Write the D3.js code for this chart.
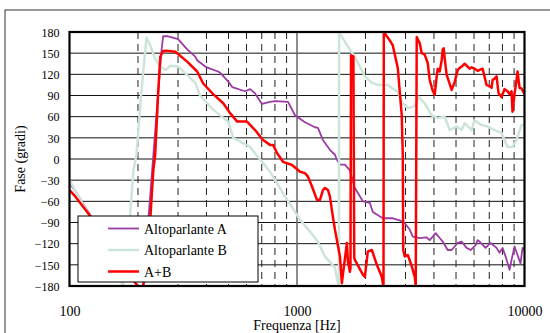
<!DOCTYPE html>
<html>
<head>
<meta charset="utf-8">
<script src="https://cdn.jsdelivr.net/npm/d3@7"></script>
<style>
  body { margin: 0; background: #fff; }
  svg { display: block; font-family: "Liberation Serif", "Times New Roman", serif; }
</style>
</head>
<body>
<svg id="chart" width="550" height="333"></svg>
<script>
// ---- data (frequency Hz, phase deg) ----
const xTicks = [100, 1000, 10000];
const xMinor = [200, 300, 400, 500, 600, 700, 800, 900, 2000, 3000, 4000, 5000, 6000, 7000, 8000, 9000];
const yTicks = [-180, -150, -120, -90, -60, -30, 0, 30, 60, 90, 120, 150, 180];
const seriesNames = ['Altoparlante A', 'Altoparlante B', 'A+B'];

const phaseA = [
  [100, -35], [106, -45], [121, -75], [160, -140], [199, -180], [205, -190], [211, -180],
  [253, 150], [258, 174], [269, 174], [292, 171], [300, 170], [330, 155], [357, 145],
  [364, 140], [395, 131], [415, 128], [450, 124], [460, 122], [498, 110], [519, 102],
  [591, 96], [622, 99], [654, 93], [702, 78], [761, 81], [801, 82], [913, 81], [980, 62],
  [1084, 52], [1199, 45], [1236, 44], [1300, 27], [1395, 13], [1468, 6], [1497, -1],
  [1544, -8], [1624, -8], [1708, -16], [1796, -41], [1948, -60], [2090, -62], [2154, -75],
  [2383, -84], [2637, -84], [2830, -87], [2976, -91], [3130, -100], [3227, -110],
  [3463, -112], [3700, -111], [3831, -115], [4070, -105], [4239, -112], [4369, -117],
  [4595, -129], [4784, -129], [5083, -119], [5293, -117], [5567, -126], [5797, -129],
  [6096, -122], [6221, -115], [6347, -117], [6744, -126], [7094, -119], [7537, -126],
  [7770, -133], [8008, -126], [8255, -138], [8594, -157], [8770, -143], [9040, -124],
  [9318, -136], [9605, -148], [9800, -126], [10000, -129]
];

const phaseB = [
  [100, -30], [106, -45], [125, -85], [150, -135], [172, -180], [185, -77], [191, -16],
  [197, 6], [207, 95], [218, 172], [227, 160], [238, 142], [251, 131], [264, 126],
  [277, 132], [301, 131], [329, 119], [357, 108], [375, 90], [428, 70], [498, 53],
  [524, 30], [591, 21], [622, 17], [635, 13], [702, -4], [761, -18], [801, -30],
  [886, -53], [1031, -86], [1140, -103], [1224, -115], [1327, -138], [1468, -154],
  [1513, -176], [1528, -180], [1532, 179], [1591, 171], [1708, 155], [1796, 145],
  [1988, 117], [2133, 108], [2266, 105], [2507, 105], [2773, 95], [2917, 79], [3068, 72],
  [3293, 75], [3428, 88], [3642, 79], [3909, 62], [4154, 58], [4458, 60], [4689, 41],
  [5033, 46], [5293, 41], [5456, 51], [5855, 41], [6035, 55], [6477, 48], [6882, 46],
  [7386, 41], [7927, 37], [8421, 17], [8860, 17], [9224, 27], [9701, 48], [10000, 49]
];

const phaseAB = [
  [100, -44], [106, -53], [117.5, -72], [137, -100], [160, -140], [190, -170], [199, -180],
  [205, -192], [211, -180], [226, -90], [233.6, -16], [238, 6], [245, 90], [250.7, 145],
  [258, 153], [267, 153.5], [292, 152], [329, 138], [364, 124], [387, 107], [428, 92],
  [474, 79], [508, 65], [546, 53], [603, 53], [654, 41], [709, 27], [761, 20], [785, 20],
  [817, 8.5], [868, -4], [951, -8.5], [1031, -18], [1084, -20], [1117, -25], [1164, -39],
  [1224, -58], [1262, -58], [1300, -44], [1327, -41], [1368, -44], [1395, -53],
  [1438, -82], [1468, -100], [1544, -138], [1575, -176], [1591, -164], [1657, -119],
  [1674, -145], [1708, -160], [1718, -155], [1728, 147], [1770, 145], [1785, -140],
  [1796, -143], [1948, -164], [1988, -167], [2048, -131], [2133, -129], [2244, -150],
  [2359, -167], [2383, -176], [2400, -180], [2408, 180], [2432, 178], [2558, 168],
  [2637, 161], [2773, 129], [2887, 62], [2917, 6], [2930, -129], [2976, -138],
  [3068, -136], [3195, -152], [3293, -167], [3326, -180], [3360, 173], [3463, 164],
  [3534, 150], [3642, 148], [3755, 136], [3831, 112], [3949, 97], [4029, 91], [4112, 117],
  [4154, 128], [4239, 124], [4325, 140], [4369, 155], [4413, 157], [4458, 143], [4549, 119],
  [4595, 115], [4784, 98], [4932, 109], [5083, 126], [5187, 129], [5293, 131], [5456, 135],
  [5623, 131], [5738, 128], [5855, 130], [6035, 128], [6221, 125], [6543, 128], [6812, 105],
  [7023, 103], [7166, 101], [7240, 112], [7386, 114], [7537, 117], [7691, 93], [7927, 88],
  [8172, 99], [8421, 96], [8594, 92], [8770, 96], [8860, 67], [9040, 92], [9224, 112],
  [9318, 124], [9508, 101], [9701, 100], [10000, 92]
];

const seriesData = [phaseA, phaseB, phaseAB];
const seriesColors = ['#9b3ca5', '#cde5d9', '#ff0000'];
const seriesWidths = [1.8, 2.5, 2.5];

// ---- layout ----
const svg = d3.select('#chart');
const plot = { left: 69.5, right: 524.5, top: 32, bottom: 286 };

const x = d3.scaleLog().domain([100, 10000]).range([plot.left, plot.right]);
const y = d3.scaleLinear().domain([-180, 180]).range([plot.bottom, plot.top]);

// outer chart border
svg.append('rect')
  .attr('x', 5).attr('y', 10)
  .attr('width', 560).attr('height', 340)
  .attr('fill', 'none').attr('stroke', '#333').attr('stroke-width', 1);

// horizontal grid
svg.append('g').selectAll('line').data(yTicks).join('line')
  .attr('x1', plot.left).attr('x2', plot.right)
  .attr('y1', d => y(d)).attr('y2', d => y(d))
  .attr('stroke', '#111').attr('stroke-width', 1);

// vertical grid (dashed minor, solid decade)
svg.append('g').selectAll('line').data(xMinor).join('line')
  .attr('x1', d => x(d)).attr('x2', d => x(d))
  .attr('y1', plot.top).attr('y2', plot.bottom)
  .attr('stroke', '#222').attr('stroke-width', 1)
  .attr('stroke-dasharray', '7,5');

svg.append('line')
  .attr('x1', x(1000)).attr('x2', x(1000))
  .attr('y1', plot.top).attr('y2', plot.bottom)
  .attr('stroke', '#666').attr('stroke-width', 1.5);

// series
svg.append('clipPath').attr('id', 'clip')
  .append('rect')
  .attr('x', plot.left).attr('y', plot.top)
  .attr('width', plot.right - plot.left).attr('height', plot.bottom - plot.top);

const line = d3.line().x(d => x(d[0])).y(d => y(d[1]));

svg.append('g').attr('clip-path', 'url(#clip)')
  .selectAll('path').data(seriesData).join('path')
  .attr('d', line)
  .attr('fill', 'none')
  .attr('stroke', (d, i) => seriesColors[i])
  .attr('stroke-width', (d, i) => seriesWidths[i])
  .attr('stroke-linejoin', 'round');

// plot border
svg.append('rect')
  .attr('x', plot.left).attr('y', plot.top)
  .attr('width', plot.right - plot.left).attr('height', plot.bottom - plot.top)
  .attr('fill', 'none').attr('stroke', '#000').attr('stroke-width', 2.2);

// y axis labels
const yAxis = svg.append('g')
  .attr('transform', `translate(${plot.left - 10},0)`)
  .call(d3.axisLeft(y).tickValues(yTicks).tickSize(0).tickPadding(0));
yAxis.select('.domain').remove();
yAxis.selectAll('text')
  .attr('font-family', '"Liberation Serif", "Times New Roman", serif')
  .attr('font-size', 12).attr('fill', '#000')
  .attr('dy', '0.36em');

// x axis labels
const xAxis = svg.append('g')
  .call(d3.axisBottom(x).tickValues(xTicks).tickFormat(d3.format('d')).tickSize(0));
xAxis.select('.domain').remove();
xAxis.selectAll('text')
  .attr('font-family', '"Liberation Serif", "Times New Roman", serif')
  .attr('font-size', 14).attr('fill', '#000')
  .attr('y', 316).attr('dy', 0);

// axis titles
svg.append('text')
  .attr('x', (plot.left + plot.right) / 2).attr('y', 330)
  .attr('text-anchor', 'middle').attr('font-size', 14)
  .text('Frequenza [Hz]');

svg.append('text')
  .attr('transform', `translate(25,${(plot.top + plot.bottom) / 2}) rotate(-90)`)
  .attr('text-anchor', 'middle').attr('font-size', 14)
  .text('Fase (gradi)');

// legend
const legend = svg.append('g').attr('transform', 'translate(78,216)');
legend.append('rect')
  .attr('width', 180).attr('height', 66)
  .attr('fill', '#fff').attr('stroke', '#000').attr('stroke-width', 1);
const rows = legend.selectAll('g').data(seriesNames).join('g')
  .attr('transform', (d, i) => `translate(0,${12.5 + i * 21.5})`);
rows.append('line')
  .attr('x1', 30).attr('x2', 61)
  .attr('stroke', (d, i) => seriesColors[i])
  .attr('stroke-width', (d, i) => seriesWidths[i]);
rows.append('text')
  .attr('x', 66).attr('y', 5)
  .attr('font-size', 14)
  .text(d => d);
</script>
</body>
</html>
